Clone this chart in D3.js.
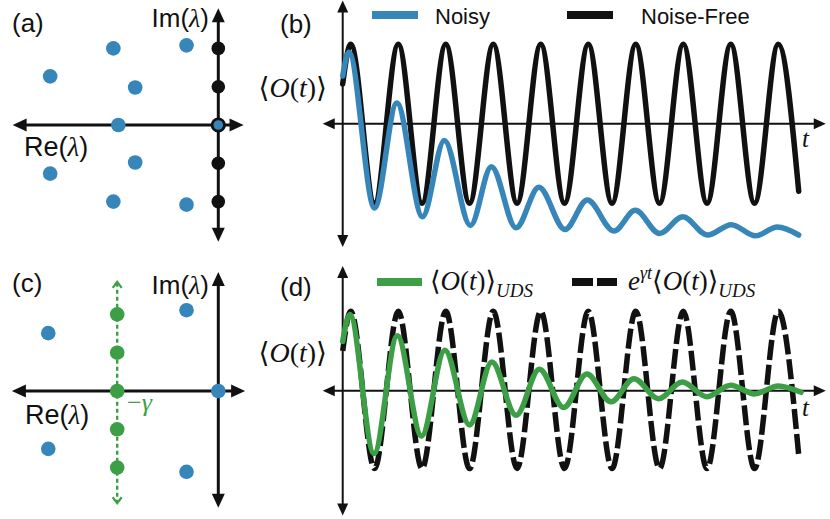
<!DOCTYPE html>
<html><head><meta charset="utf-8">
<script src="https://cdn.jsdelivr.net/npm/d3@7"></script>
<style>html,body{margin:0;padding:0;background:#fff;} svg{display:block}</style>
</head><body>
<svg id="c" width="830" height="519"></svg>
<script>
// ---------- DATA ----------
// Panel (b): extrema of the curves, t in oscillation periods
const waveT      = [0, 0.17, 0.67, 1.17, 1.67, 2.17, 2.67, 3.17, 3.67, 4.17, 4.67, 5.17, 5.67, 6.17, 6.67, 7.17, 7.67, 8.17, 8.67, 9.17, 9.6];
const noiseFree  = [0.5, 1, -1, 1, -1, 1, -1, 1, -1, 1, -1, 1, -1, 1, -1, 1, -1, 1, -1, 1, -0.85];
const noisyT     = [0, 0.13, 0.67, 1.14, 1.68, 2.14, 2.69, 3.13, 3.65, 4.13, 4.68, 5.15, 5.71, 6.16, 6.67, 7.16, 7.68, 8.18, 8.69, 9.15, 9.6];
const noisy      = [0.6, 0.9, -1.06, 0.26, -1.17, -0.21, -1.28, -0.54, -1.31, -0.8, -1.33, -0.96, -1.35, -1.09, -1.38, -1.17, -1.40, -1.27, -1.41, -1.30, -1.40];
// Panel (d)
const udsT       = [0, 0.15, 0.66, 1.15, 1.66, 2.15, 2.67, 3.14, 3.65, 4.14, 4.65, 5.14, 5.65, 6.13, 6.65, 7.15, 7.66, 8.17, 8.67, 9.17, 9.65];
const uds        = [0.62, 0.96, -0.79, 0.69, -0.57, 0.51, -0.43, 0.36, -0.31, 0.27, -0.21, 0.21, -0.14, 0.15, -0.10, 0.11, -0.075, 0.07, -0.04, 0.06, -0.02];
const rescaledT  = [0, 0.17, 0.67, 1.17, 1.67, 2.17, 2.67, 3.17, 3.67, 4.17, 4.67, 5.17, 5.67, 6.17, 6.67, 7.17, 7.67, 8.17, 8.67, 9.17, 9.6];
const rescaled   = [0.5, 1, -0.98, 1, -0.98, 1, -0.98, 1, -0.98, 1, -0.98, 1, -0.98, 1, -0.98, 1, -0.98, 1, -0.98, 1, -0.81];
// Panel (a): eigenvalues in the complex plane
const aBlueRe  = [-2.74, -0.83, -4.39, -2.17, -2.61, -2.17, -4.39, -2.74, -0.83];
const aBlueIm  = [2.0, 2.08, 1.27, 0.98, 0, -0.98, -1.27, -2.0, -2.08];
const aBlackIm = [2, 1, -1, -2];
const aRingIm  = [0];
// Panel (c)
const cBlueRe  = [-0.83, -4.44, 0, -4.44, -0.83];
const cBlueIm  = [2.11, 1.51, 0, -1.51, -2.11];
const cGreenRe = -2.64;
const cGreenIm = [2, 1, 0, -1, -2];
// Legend / label texts
const legendB = ["Noisy", "Noise-Free"];

// ---------- DRAWING ----------
const svg = d3.select("#c");
const BLUE = "#3786ba", GREEN = "#3c9e45", BLACK = "#111";
const SANS = "'Liberation Sans', Arial, sans-serif";
const SERIF = "'Liberation Serif', 'Times New Roman', 'DejaVu Serif', serif";

function head(g, x1, y1, x2, y2, L, W, fill) {
  const dx = x2 - x1, dy = y2 - y1, len = Math.hypot(dx, dy);
  const ux = dx / len, uy = dy / len, px = -uy, py = ux;
  const bx = x2 - ux * L, by = y2 - uy * L;
  g.append("path")
    .attr("d", `M${x2},${y2}L${bx + px * W / 2},${by + py * W / 2}L${bx - px * W / 2},${by - py * W / 2}Z`)
    .attr("fill", fill);
}
function dArrow(g, x1, y1, x2, y2, sw, L, W) {
  const dx = x2 - x1, dy = y2 - y1, len = Math.hypot(dx, dy);
  const ux = dx / len, uy = dy / len;
  g.append("line")
    .attr("x1", x1 + ux * (L - 1)).attr("y1", y1 + uy * (L - 1))
    .attr("x2", x2 - ux * (L - 1)).attr("y2", y2 - uy * (L - 1))
    .attr("stroke", BLACK).attr("stroke-width", sw);
  head(g, x1, y1, x2, y2, L, W, BLACK);
  head(g, x2, y2, x1, y1, L, W, BLACK);
}
function addTspans(text, parts) {
  parts.forEach(p => {
    const ts = text.append("tspan").text(p.t);
    if (p.it) ts.attr("font-style", "italic");
    if (p.fam) ts.attr("font-family", p.fam);
    if (p.size) ts.attr("font-size", p.size);
    if (p.dy) ts.attr("dy", p.dy);
    if (p.dx) ts.attr("dx", p.dx);
  });
  return text;
}
function label(x, y, parts, size, fam, anchor, fill) {
  const t = svg.append("text").attr("x", x).attr("y", y)
    .attr("font-size", size).attr("font-family", fam)
    .attr("text-anchor", anchor || "start").attr("fill", fill || BLACK);
  return addTspans(t, parts);
}

// ---- complex-plane panels (a) and (c) ----
function plane(originY, reExt, imExt) {
  const re = d3.scaleLinear().domain([0, 1]).range([218.3, 256.6]);
  const im = d3.scaleLinear().domain([0, 1]).range([originY, originY - 38.3]);
  const g = svg.append("g");
  dArrow(g, re(reExt[0]), im(0), re(reExt[1]), im(0), 3, 14, 13);
  dArrow(g, re(0), im(imExt[0]), re(0), im(imExt[1]), 3, 14, 13);
  return { re, im, g };
}
const pa = plane(125, [-5.37, 0.66], [-3.05, 3.05]);
pa.g.selectAll(".bd").data(d3.range(aBlueRe.length)).join("circle")
  .attr("cx", i => pa.re(aBlueRe[i])).attr("cy", i => pa.im(aBlueIm[i]))
  .attr("r", 7.3).attr("fill", BLUE);
pa.g.selectAll(".kd").data(aBlackIm).join("circle")
  .attr("cx", pa.re(0)).attr("cy", d => pa.im(d)).attr("r", 6.8).attr("fill", BLACK);
pa.g.selectAll(".rd").data(aRingIm).join("circle")
  .attr("cx", pa.re(0)).attr("cy", d => pa.im(d)).attr("r", 6.2)
  .attr("fill", BLUE).attr("stroke", BLACK).attr("stroke-width", 2.8);

const pc = plane(391, [-5.39, 0.70], [-3.05, 3.11]);
// green dashed vertical with open arrowheads
{
  const x = pc.re(cGreenRe), y1 = pc.im(2.85), y2 = pc.im(-2.93);
  pc.g.append("line").attr("x1", x).attr("x2", x).attr("y1", y1 + 1).attr("y2", y2 - 1)
    .attr("stroke", GREEN).attr("stroke-width", 2.4).attr("stroke-dasharray", "4,3");
  pc.g.append("path").attr("d", `M${x - 4.5},${y1 + 6}L${x},${y1}L${x + 4.5},${y1 + 6}`)
    .attr("fill", "none").attr("stroke", GREEN).attr("stroke-width", 2.2);
  pc.g.append("path").attr("d", `M${x - 4.5},${y2 - 6}L${x},${y2}L${x + 4.5},${y2 - 6}`)
    .attr("fill", "none").attr("stroke", GREEN).attr("stroke-width", 2.2);
}
pc.g.selectAll(".gd").data(cGreenIm).join("circle")
  .attr("cx", pc.re(cGreenRe)).attr("cy", d => pc.im(d)).attr("r", 7.3).attr("fill", GREEN);
pc.g.selectAll(".bd").data(d3.range(cBlueRe.length)).join("circle")
  .attr("cx", i => pc.re(cBlueRe[i])).attr("cy", i => pc.im(cBlueIm[i]))
  .attr("r", 7.3).attr("fill", BLUE);

const lamParts = (a) => [{ t: a }, { t: "(" }, { t: "λ", it: true, fam: SERIF }, { t: ")" }];
label(12, 32, [{ t: "(a)" }], 26, SANS);
label(209, 27, lamParts("Im"), 26, SANS, "end");
label(24, 156, lamParts("Re"), 27, SANS);
label(12, 292, [{ t: "(c)" }], 26, SANS);
label(209, 294, lamParts("Im"), 26, SANS, "end");
label(25, 424, lamParts("Re"), 27, SANS);
label(127, 411, [{ t: "−" }, { t: "γ", it: true }], 26, SERIF, "start", GREEN);

// ---- time panels (b) and (d) ----
const xT = d3.scaleLinear().domain([0, 1]).range([342.7, 390.2]);
function timePanel(axisY, ext) {
  const y = d3.scaleLinear().domain([-1, 1]).range([axisY + 79.5, axisY - 79.5]);
  const g = svg.append("g");
  dArrow(g, xT(-0.42), y(0), xT(10.17), y(0), 2, 12, 11);
  dArrow(g, xT(0), y(ext[0]), xT(0), y(ext[1]), 2, 12, 11);
  return { y, g };
}
function curve(g, y, ts, vs, color, dash) {
  const line = d3.line().x(d => xT(d[0])).y(d => y(d[1])).curve(d3.curveMonotoneX);
  const p = g.append("path").datum(d3.zip(ts, vs)).attr("d", line)
    .attr("fill", "none").attr("stroke", color).attr("stroke-width", 5.5)
    .attr("stroke-linejoin", "round");
  if (dash) p.attr("stroke-dasharray", dash); else p.attr("stroke-linecap", "round");
}
const oLabel = [{ t: "⟨" }, { t: "O", it: true }, { t: "(" }, { t: "t", it: true }, { t: ")" }, { t: "⟩" }];

const pb = timePanel(123.7, [-1.55, 1.55]);
curve(pb.g, pb.y, waveT, noiseFree, BLACK);
curve(pb.g, pb.y, noisyT, noisy, BLUE);
label(280, 33, [{ t: "(b)" }], 26, SANS);
label(327, 97, oLabel, 28, SERIF, "end");
label(802, 147, [{ t: "t", it: true }], 25, SERIF);
// legend (b)
svg.append("line").attr("x1", 372).attr("x2", 418).attr("y1", 15).attr("y2", 15).attr("stroke", BLUE).attr("stroke-width", 8);
label(435, 24, [{ t: legendB[0] }], 22, SANS);
svg.append("line").attr("x1", 567).attr("x2", 613).attr("y1", 15).attr("y2", 15).attr("stroke", BLACK).attr("stroke-width", 8);
label(641, 24, [{ t: legendB[1] }], 22, SANS);

const pd = timePanel(390.7, [-1.57, 1.57]);
curve(pd.g, pd.y, rescaledT, rescaled, BLACK, "20,5");
curve(pd.g, pd.y, udsT, uds, GREEN);
label(280, 296, [{ t: "(d)" }], 26, SANS);
label(327, 362, oLabel, 28, SERIF, "end");
label(802, 416, [{ t: "t", it: true }], 25, SERIF);
// legend (d)
svg.append("line").attr("x1", 377).attr("x2", 422).attr("y1", 282).attr("y2", 282).attr("stroke", GREEN).attr("stroke-width", 8);
label(430, 290, oLabel.concat([{ t: "UDS", it: true, size: 19, dy: 7 }]), 27, SERIF);
svg.append("line").attr("x1", 572).attr("x2", 617).attr("y1", 282).attr("y2", 282).attr("stroke", BLACK).attr("stroke-width", 8).attr("stroke-dasharray", "21,4");
label(628, 290, [{ t: "e", it: true }, { t: "γt", it: true, size: 18, dy: -11 },
  { t: "⟨", dy: 11 }, { t: "O", it: true }, { t: "(" }, { t: "t", it: true }, { t: ")" }, { t: "⟩" },
  { t: "UDS", it: true, size: 19, dy: 7 }], 27, SERIF);
</script>
</body></html>
